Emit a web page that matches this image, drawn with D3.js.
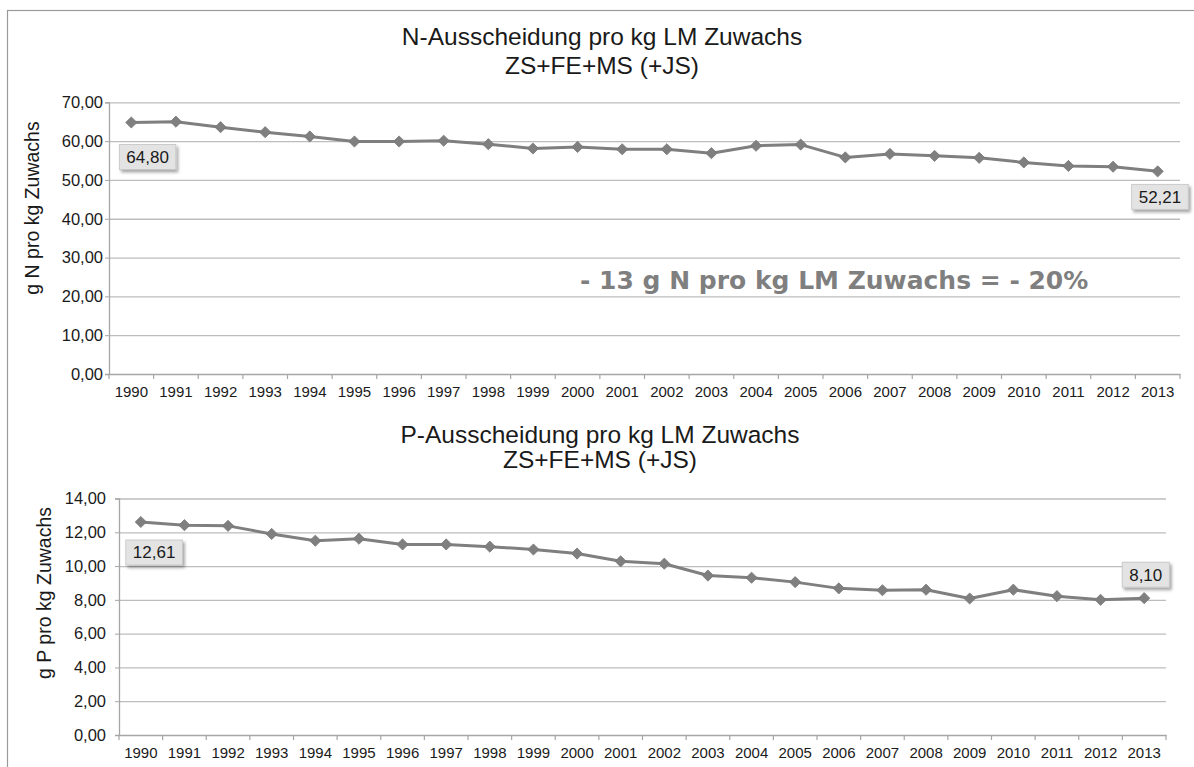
<!DOCTYPE html>
<html>
<head>
<meta charset="utf-8">
<script src="https://cdn.jsdelivr.net/npm/d3@7"></script>
<style>
  html, body { margin: 0; padding: 0; background: #fff; }
  svg { display: block; }
</style>
</head>
<body>
<svg id="chart" width="1194" height="767"></svg>
<script>
// ---- data ----
const years = ["1990","1991","1992","1993","1994","1995","1996","1997","1998","1999","2000","2001","2002","2003","2004","2005","2006","2007","2008","2009","2010","2011","2012","2013"];
const nValues = [64.80, 65.0, 63.6, 62.3, 61.2, 59.9, 59.9, 60.1, 59.2, 58.1, 58.5, 57.9, 57.9, 56.9, 58.8, 59.1, 55.8, 56.7, 56.2, 55.7, 54.5, 53.6, 53.4, 52.21];
const pValues = [12.61, 12.42, 12.38, 11.90, 11.50, 11.62, 11.28, 11.28, 11.15, 10.98, 10.74, 10.28, 10.14, 9.44, 9.31, 9.05, 8.68, 8.57, 8.60, 8.08, 8.60, 8.22, 8.00, 8.10];
const nTicks = [0, 10, 20, 30, 40, 50, 60, 70];
const pTicks = [0, 2, 4, 6, 8, 10, 12, 14];
const nTitle = ["N-Ausscheidung pro kg LM Zuwachs", "ZS+FE+MS (+JS)"];
const pTitle = ["P-Ausscheidung pro kg LM Zuwachs", "ZS+FE+MS (+JS)"];
const nAxisTitle = "g N pro kg Zuwachs";
const pAxisTitle = "g P pro kg Zuwachs";
const nNote = "- 13 g N pro kg LM Zuwachs = - 20%";
const nNoteValue = 24;

// ---- helpers ----
const de = d3.formatLocale({decimal: ",", thousands: ".", grouping: [3], currency: ["", " €"]});
const fmt = de.format(".2f");
const SANS = "'Liberation Sans', Arial, sans-serif";

const svg = d3.select("#chart");
const defs = svg.append("defs");
const f = defs.append("filter").attr("id", "shadow").attr("x", "-20%").attr("y", "-20%").attr("width", "150%").attr("height", "160%");
f.append("feDropShadow").attr("dx", 2).attr("dy", 2.5).attr("stdDeviation", 1.6)
  .attr("flood-color", "#000").attr("flood-opacity", 0.35);

// outer frame
svg.append("rect").attr("x", 7.5).attr("y", 10.5).attr("width", 1220).attr("height", 800)
  .attr("fill", "none").attr("stroke", "#9a9a9a").attr("stroke-width", 1.2);

const GRAY = "#7f7f7f";

function drawChart(cfg) {
  const g = svg.append("g");
  const x = d3.scaleBand().domain(years).range([cfg.left, cfg.right]);
  const y = d3.scaleLinear().domain([cfg.ticks[0], cfg.ticks[cfg.ticks.length - 1]]).range([cfg.bottom, cfg.top]);

  // title
  cfg.title.forEach((t, i) => {
    g.append("text").attr("x", cfg.titleX).attr("y", cfg.titleY[i])
      .attr("text-anchor", "middle").style("font-family", SANS).style("font-size", "24.5px")
      .attr("fill", "#1a1a1a").text(t);
  });

  // gridlines
  const grid = g.append("g").attr("transform", `translate(${cfg.left},0)`)
    .call(d3.axisLeft(y).tickValues(cfg.ticks.slice(1)).tickSize(-(cfg.right - cfg.left)).tickFormat(""));
  grid.select(".domain").remove();
  grid.selectAll("line").attr("stroke", "#bdbdbd").attr("stroke-width", 1.3);

  // y axis
  const ya = g.append("g").attr("transform", `translate(${cfg.left},0)`)
    .call(d3.axisLeft(y).tickValues(cfg.ticks).tickSize(4).tickPadding(cfg.tickPad).tickFormat(fmt));
  ya.select(".domain").attr("stroke", "#a6a6a6").attr("stroke-width", 1.3);
  ya.selectAll("line").attr("stroke", "#a6a6a6");
  ya.selectAll("text").style("font-size", "16.5px").attr("fill", "#1a1a1a").style("font-family", SANS);

  // x axis
  const xa = g.append("g").attr("transform", `translate(0,${cfg.bottom})`)
    .call(d3.axisBottom(x).tickSize(0).tickPadding(cfg.xLabelPad));
  xa.select(".domain").attr("stroke", "#a6a6a6").attr("stroke-width", 1.3);
  xa.selectAll("text").style("font-size", "15px").attr("fill", "#1a1a1a").style("font-family", SANS);
  // category boundary ticks
  const bounds = years.map(yr => x(yr)).concat([x(years[years.length - 1]) + x.bandwidth()]);
  g.append("g").selectAll("line").data(bounds).join("line")
    .attr("x1", d => d).attr("x2", d => d)
    .attr("y1", cfg.bottom).attr("y2", cfg.bottom + 5)
    .attr("stroke", "#a6a6a6").attr("stroke-width", 1.2);

  // axis title
  g.append("text")
    .attr("transform", `translate(${cfg.axisTitleX},${cfg.axisTitleY}) rotate(-90)`)
    .attr("text-anchor", "middle").attr("dominant-baseline", "central")
    .style("font-family", SANS).style("font-size", "19.5px").attr("fill", "#1a1a1a").text(cfg.axisTitle);

  const cx = i => x(years[i]) + x.bandwidth() / 2;

  // line
  const line = d3.line().x((d, i) => cx(i)).y(d => y(d));
  g.append("path").datum(cfg.values).attr("d", line)
    .attr("fill", "none").attr("stroke", GRAY).attr("stroke-width", 3).attr("stroke-linejoin", "round");

  // markers
  g.append("g").selectAll("path").data(cfg.values).join("path")
    .attr("d", d3.symbol().type(d3.symbolDiamond2).size(80))
    .attr("transform", (d, i) => `translate(${cx(i)},${y(d)})`)
    .attr("fill", GRAY).attr("stroke", "#777").attr("stroke-width", 0.8);

  // data labels (first and last)
  cfg.labels.forEach(lb => {
    const px = cx(lb.index), py = y(cfg.values[lb.index]);
    const lg = g.append("g");
    const t = lg.append("text").style("font-family", SANS).style("font-size", "17px").attr("fill", "#1a1a1a")
      .attr("dominant-baseline", "central").text(fmt(cfg.values[lb.index]));
    const w = t.node().getComputedTextLength() + 14, h = 25;
    const bx = px + lb.dx, by = py + lb.dy;
    lg.insert("rect", "text").attr("x", bx).attr("y", by).attr("width", w).attr("height", h)
      .attr("fill", "#e3e3e3").attr("stroke", "#c4c4c4").attr("stroke-width", 0.8)
      .attr("filter", "url(#shadow)");
    t.attr("x", bx + 7).attr("y", by + h / 2 + 0.5);
  });

  if (cfg.note) {
    g.append("text").attr("x", cfg.noteX).attr("y", y(cfg.noteValue))
      .attr("dominant-baseline", "central")
      .style("font-family", "'DejaVu Sans', Verdana, sans-serif").style("font-weight", "bold")
      .style("font-size", "25px").attr("fill", GRAY).text(cfg.note);
  }
}

drawChart({
  values: nValues, ticks: nTicks, title: nTitle, axisTitle: nAxisTitle,
  left: 109, right: 1180, top: 102.3, bottom: 374,
  titleX: 602, titleY: [45, 74], tickPad: 2, xLabelPad: 12,
  axisTitleX: 32, axisTitleY: 208,
  labels: [{index: 0, dx: -12, dy: 22}, {index: years.length - 1, dx: -26, dy: 13}],
  note: nNote, noteValue: nNoteValue, noteX: 580
});

drawChart({
  values: pValues, ticks: pTicks, title: pTitle, axisTitle: pAxisTitle,
  left: 119, right: 1166, top: 498.5, bottom: 735,
  titleX: 600, titleY: [443, 468], tickPad: 9, xLabelPad: 12,
  axisTitleX: 44, axisTitleY: 593,
  labels: [{index: 0, dx: -15, dy: 18}, {index: years.length - 1, dx: -22, dy: -36}],
  note: null
});
</script>
</body>
</html>
